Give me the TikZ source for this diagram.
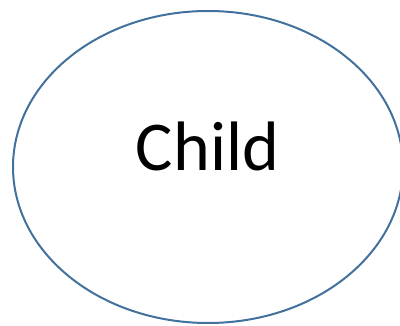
\documentclass[tikz,border=0pt]{standalone}
\usepackage{fontspec}
\setmainfont{Carlito}
\definecolor{outl}{HTML}{41719C}
\begin{document}
\begin{tikzpicture}[x=1pt,y=-1pt,
  shapeline/.style={draw=outl,line width=2pt},
  lbl/.style={font=\fontsize{70}{84}\selectfont,inner sep=0pt,anchor=base}]
\useasboundingbox (0,0) rectangle (400,326);
\draw[shapeline] (208,167) ellipse [x radius=195,y radius=156];
\node[lbl] (child) at (207.5,171) {Child};
\end{tikzpicture}
\end{document}
